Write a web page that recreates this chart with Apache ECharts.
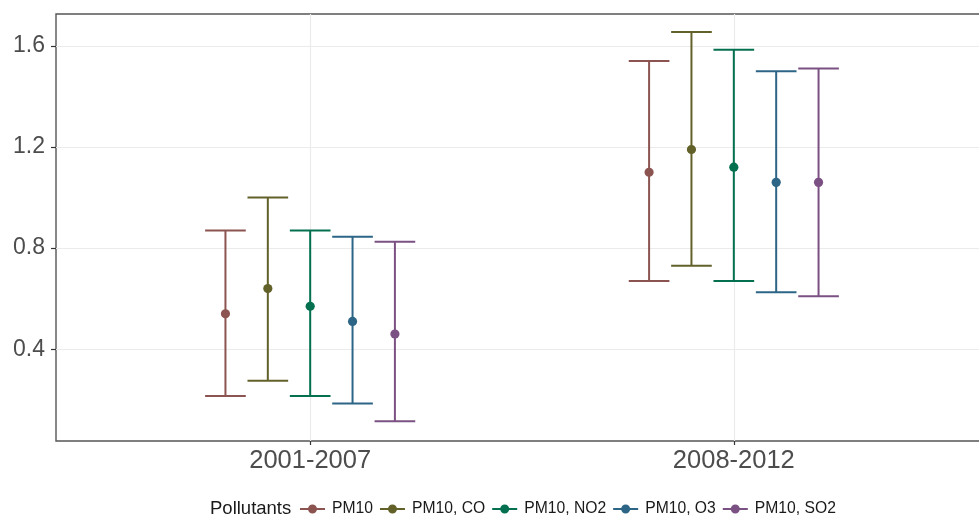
<!DOCTYPE html>
<html>
<head>
<meta charset="utf-8">
<script src="https://cdn.jsdelivr.net/npm/echarts@6/dist/echarts.min.js"></script>
<style>
  html, body { margin: 0; padding: 0; background: #fff; }
  #chart { width: 979px; height: 515px; }
</style>
</head>
<body>
<div id="chart"></div>
<script>
// Study periods on the x axis
const periods = ['2001-2007', '2008-2012'];
// Pollutant models (legend order)
const pollutants = ['PM10', 'PM10, CO', 'PM10, NO2', 'PM10, O3', 'PM10, SO2'];
const colors = ['#8c5450', '#62612a', '#04704f', '#2c6586', '#7b5082'];

// Point estimates per pollutant model, one value per period
const meanPM10 = [0.54, 1.10];
const meanCO   = [0.64, 1.19];
const meanNO2  = [0.57, 1.12];
const meanO3   = [0.51, 1.06];
const meanSO2  = [0.46, 1.06];

// Lower confidence limits
const lowPM10 = [0.215, 0.67];
const lowCO   = [0.275, 0.73];
const lowNO2  = [0.215, 0.67];
const lowO3   = [0.185, 0.625];
const lowSO2  = [0.115, 0.61];

// Upper confidence limits
const highPM10 = [0.87, 1.54];
const highCO   = [1.00, 1.655];
const highNO2  = [0.87, 1.585];
const highO3   = [0.845, 1.50];
const highSO2  = [0.825, 1.51];

// Y axis tick values
const yTicks = [0.4, 0.8, 1.2, 1.6];

const means = [meanPM10, meanCO, meanNO2, meanO3, meanSO2];
const lows = [lowPM10, lowCO, lowNO2, lowO3, lowSO2];
const highs = [highPM10, highCO, highNO2, highO3, highSO2];

// Dodge layout: groups spread over 0.5 x-units, each slot 0.1 wide
const dodgeWidth = 0.5;
const slot = dodgeWidth / pollutants.length;
const capWidth = 0.096;

// Legend icon: a short line with a dot in the middle
const keyIcon = 'path://M0,4H25V6H0Z M12.5,0.5A4.5,4.5 0 1 1 12.49,0.5Z';

const series = pollutants.map((name, i) => {
  const offset = -dodgeWidth / 2 + slot * (i + 0.5);
  const data = periods.map((p, j) => [j + 1, lows[i][j], means[i][j], highs[i][j]]);
  return {
    name: name,
    type: 'custom',
    itemStyle: { color: colors[i] },
    data: data,
    renderItem: function (params, api) {
      const x = api.value(0) + offset;
      const lo = api.coord([x, api.value(1)]);
      const mid = api.coord([x, api.value(2)]);
      const hi = api.coord([x, api.value(3)]);
      const half = api.size([capWidth, 0])[0] / 2;
      const stroke = { stroke: colors[i], lineWidth: 2 };
      return {
        type: 'group',
        children: [
          { type: 'line', shape: { x1: lo[0], y1: lo[1], x2: hi[0], y2: hi[1] }, style: stroke },
          { type: 'line', shape: { x1: hi[0] - half, y1: hi[1], x2: hi[0] + half, y2: hi[1] }, style: stroke },
          { type: 'line', shape: { x1: lo[0] - half, y1: lo[1], x2: lo[0] + half, y2: lo[1] }, style: stroke },
          { type: 'circle', shape: { cx: mid[0], cy: mid[1], r: 4.6 }, style: { fill: colors[i] } }
        ]
      };
    }
  };
});

const chart = echarts.init(document.getElementById('chart'), null, { renderer: 'canvas' });
chart.setOption({
  animation: false,
  backgroundColor: '#ffffff',
  textStyle: { fontFamily: 'Liberation Sans, Arial, sans-serif' },
  grid: {
    left: 56, width: 932, top: 14, bottom: 74,
    outerBoundsMode: 'none',
    show: true, borderColor: '#555555', borderWidth: 1.4, backgroundColor: 'transparent'
  },
  title: {
    text: 'Pollutants',
    left: 210, top: 499, padding: 0,
    textStyle: { fontSize: 18.5, fontWeight: 'normal', color: '#1a1a1a', fontFamily: 'Liberation Sans, Arial, sans-serif' }
  },
  legend: {
    left: 300, top: 501, padding: 0,
    itemWidth: 25, itemHeight: 10, itemGap: 7,
    icon: keyIcon,
    data: pollutants,
    textStyle: { fontSize: 15.7, color: '#1a1a1a', padding: [0, 0, 0, 2] }
  },
  xAxis: {
    type: 'value', min: 0.4, max: 2.6,
    axisLine: { show: false },
    axisTick: { show: true, length: 4, lineStyle: { color: '#333333', width: 1.2 }, customValues: [1, 2] },
    axisLabel: {
      customValues: [1, 2],
      formatter: v => periods[Math.round(v) - 1] || '',
      fontSize: 25.5, color: '#4d4d4d', margin: 7
    },
    splitLine: { show: true, lineStyle: { color: '#ebebeb', width: 1.2 } }
  },
  yAxis: {
    type: 'value', min: 0.037, max: 1.726,
    axisLine: { show: false },
    axisTick: { show: true, length: 5, lineStyle: { color: '#333333', width: 1.2 }, customValues: yTicks },
    axisLabel: {
      customValues: yTicks,
      formatter: v => v.toFixed(1),
      fontSize: 23, color: '#4d4d4d', margin: 11
    },
    splitLine: { show: true, lineStyle: { color: '#ebebeb', width: 1.2 } }
  },
  series: series
});
</script>
</body>
</html>
